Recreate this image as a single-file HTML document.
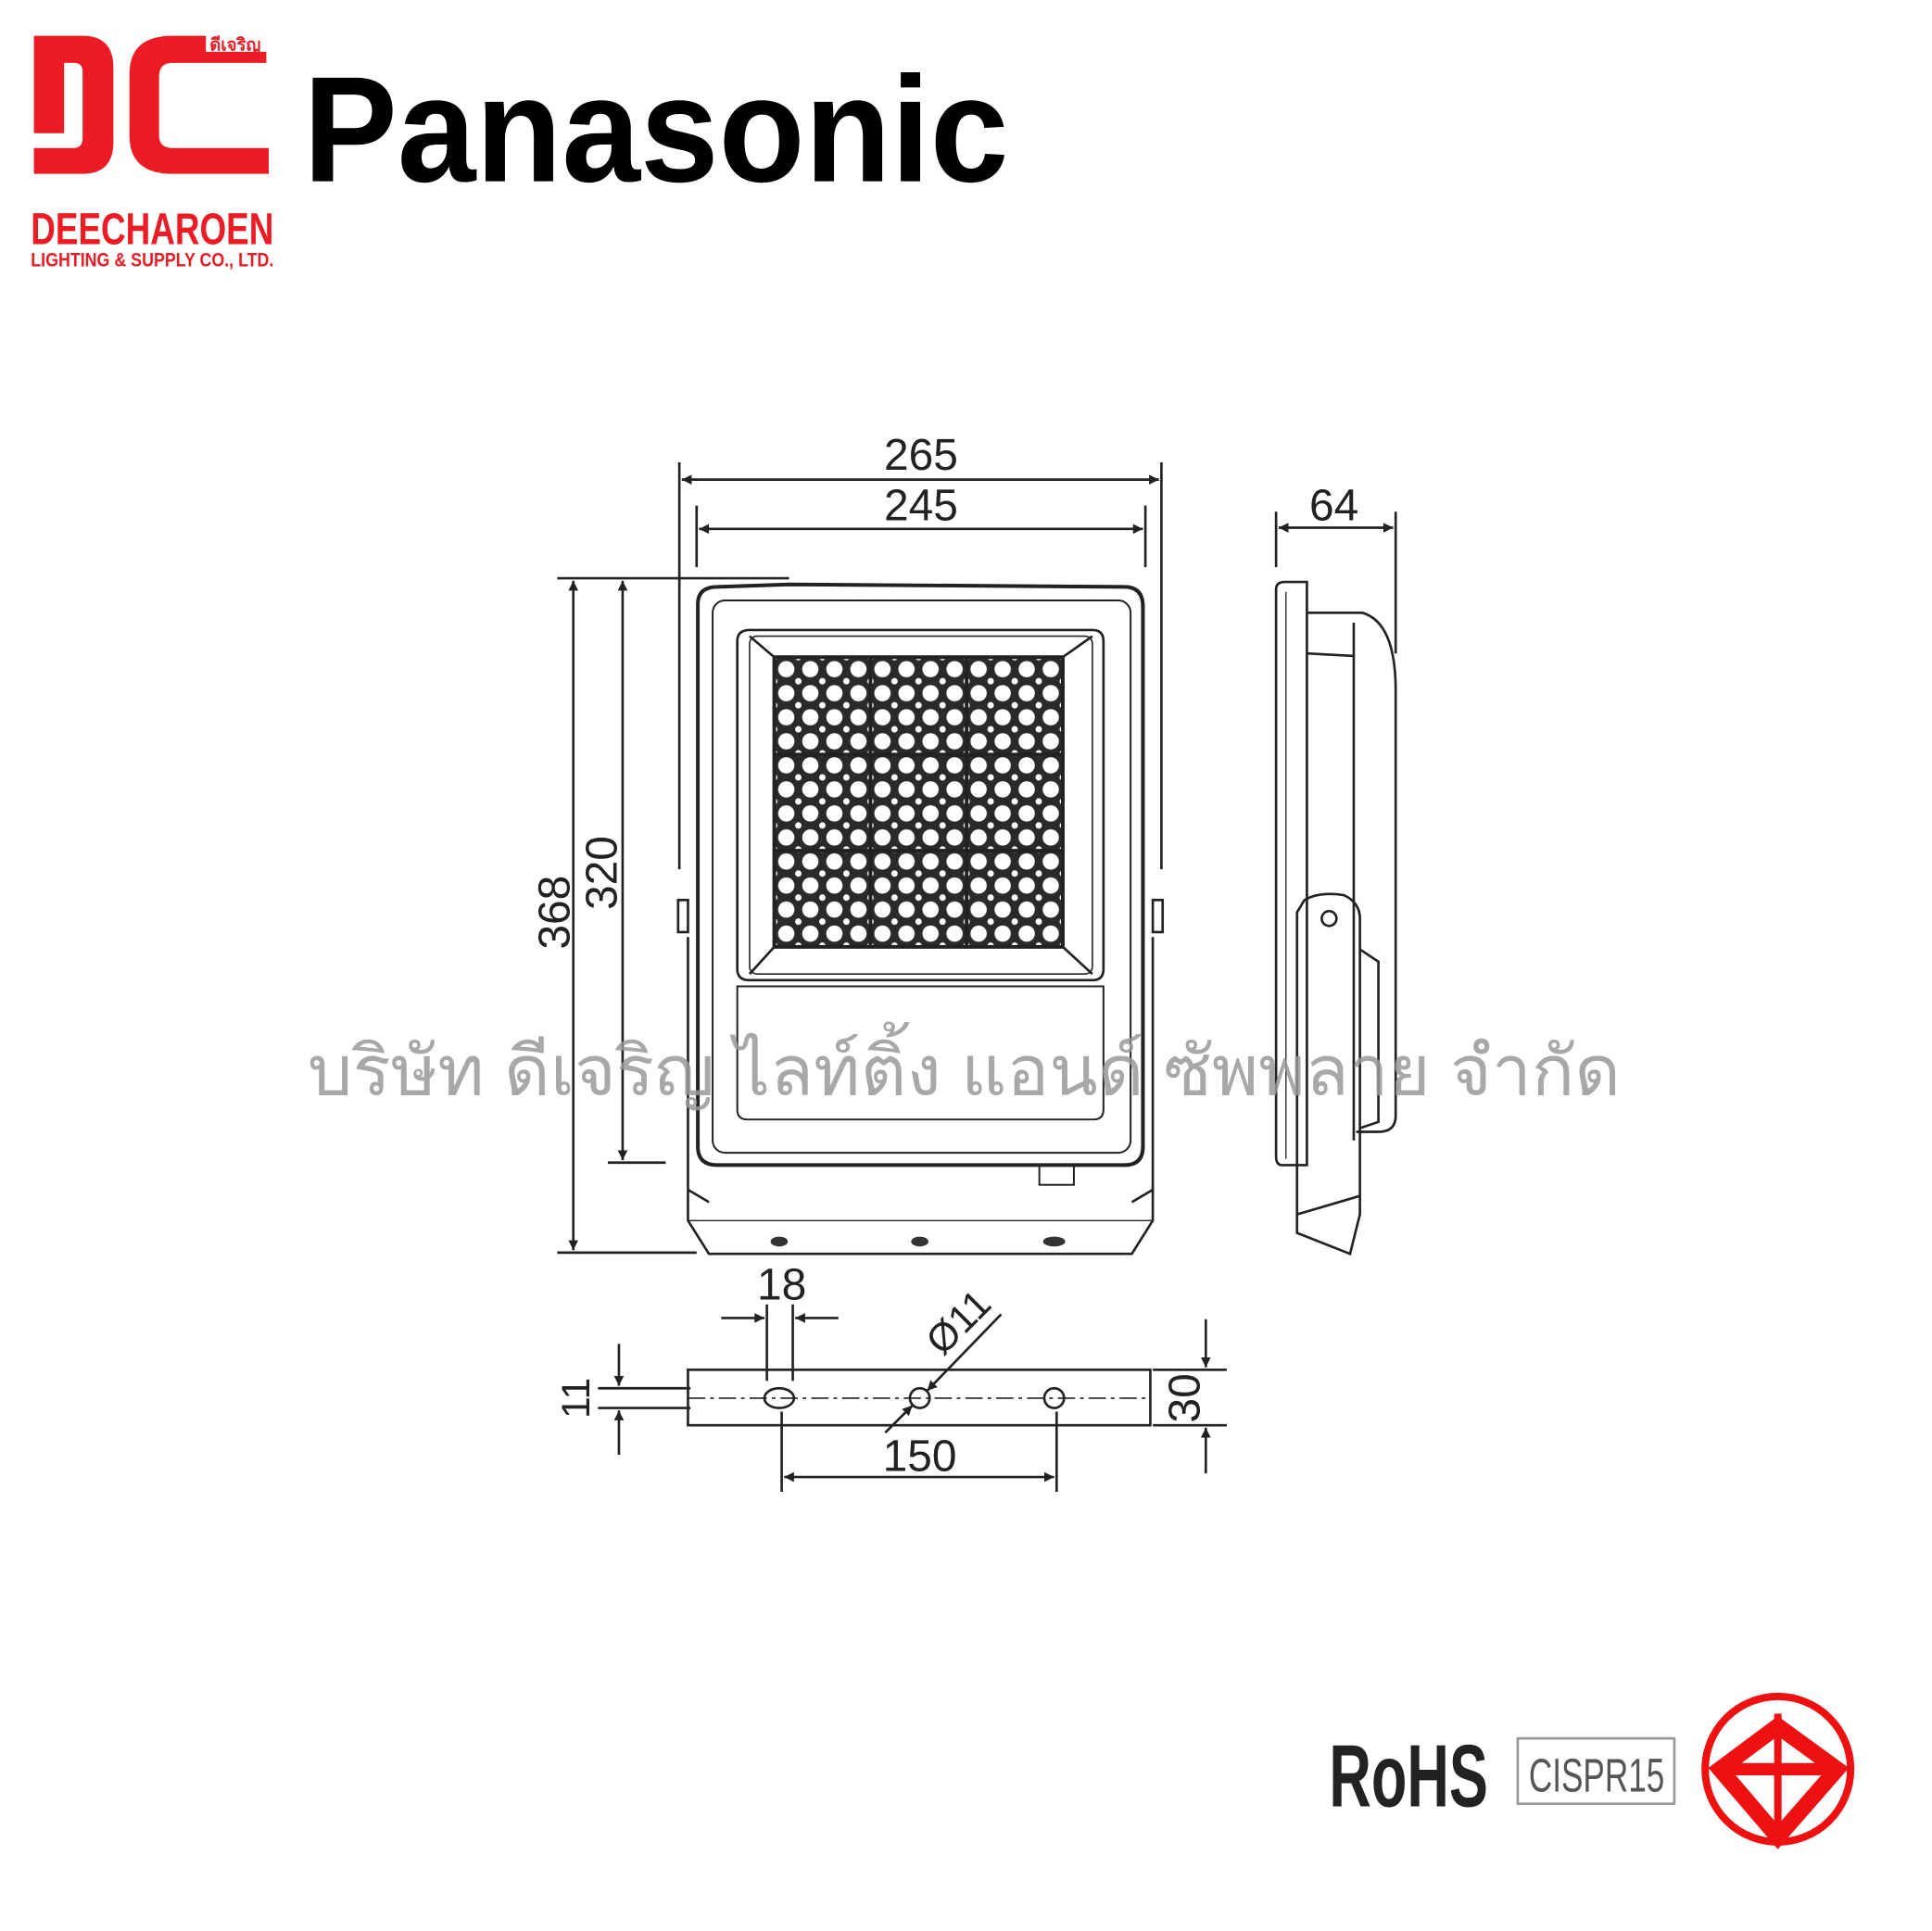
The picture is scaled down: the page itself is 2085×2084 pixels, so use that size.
<!DOCTYPE html>
<html><head><meta charset="utf-8"><style>html,body{margin:0;padding:0;background:#fff}svg{display:block}</style></head>
<body>
<svg width="2085" height="2084" viewBox="0 0 1567 1566.2" xmlns="http://www.w3.org/2000/svg">
<defs>
<marker id="a" viewBox="0 0 10 10" refX="10" refY="5" markerWidth="12" markerHeight="8" orient="auto-start-reverse" markerUnits="userSpaceOnUse"><path d="M0,0L10,5L0,10z" fill="#222"/></marker>
<pattern id="led" x="628" y="533" width="19.5" height="19.5" patternUnits="userSpaceOnUse"><rect width="19.5" height="19.5" fill="#2a2a2a"/><circle cx="9.75" cy="9.75" r="6.6" fill="#fff"/><circle cx="0" cy="0" r="2.6" fill="#fff"/><circle cx="19.5" cy="0" r="2.6" fill="#fff"/><circle cx="0" cy="19.5" r="2.6" fill="#fff"/><circle cx="19.5" cy="19.5" r="2.6" fill="#fff"/></pattern>
</defs>
<g fill="#ec1c24">
<path d="M27.5,29 H67 Q92,29 92,55 V115 Q92,141 67,141 H27.5 V120 H60 Q67,120 67,112 V58 Q67,51 60,51 H52 V108 H27.5 Z"/>
<path d="M216,42 V51 H140 Q129,51 129,62 V110 Q129,120 140,120 H218 V141 H140 Q105,141 105,110 V60 Q105,29 140,29 H167 V42 Z"/>
</g>
<text x="170" y="41" font-family="Liberation Sans, Noto Sans CJK SC, sans-serif" font-size="14" font-weight="bold" fill="#ec1c24">ดีเจริญ</text>
<text x="25" y="198" font-family="Liberation Sans Narrow, Liberation Sans, sans-serif" font-size="36" font-weight="bold" fill="#ec1c24" textLength="197" lengthAdjust="spacingAndGlyphs">DEECHAROEN</text>
<text x="25" y="216" font-family="Liberation Sans, sans-serif" font-size="16" font-weight="bold" fill="#ec1c24" textLength="197" lengthAdjust="spacingAndGlyphs">LIGHTING &amp; SUPPLY CO., LTD.</text>
<text x="246" y="147" font-family="Liberation Sans, sans-serif" font-size="122" font-weight="bold" fill="#000" textLength="572" lengthAdjust="spacingAndGlyphs">Panasonic</text>

<g fill="none" stroke="#222" stroke-width="2">
<line x1="551" y1="375" x2="551" y2="705"/><line x1="942" y1="375" x2="942" y2="705"/>
<line x1="565" y1="410" x2="565" y2="460"/><line x1="929" y1="410" x2="929" y2="460"/>
<line x1="553" y1="389" x2="940" y2="389" marker-start="url(#a)" marker-end="url(#a)"/>
<line x1="567" y1="429" x2="927" y2="429" marker-start="url(#a)" marker-end="url(#a)"/>
<line x1="452" y1="469" x2="640" y2="469"/>
<line x1="452" y1="1016" x2="565" y2="1016"/>
<line x1="493" y1="943" x2="540" y2="943"/>
<line x1="465" y1="471" x2="465" y2="1014" marker-start="url(#a)" marker-end="url(#a)"/>
<line x1="505" y1="471" x2="505" y2="941" marker-start="url(#a)" marker-end="url(#a)"/>
<path d="M566,490 Q566,476 582,476 L640,474 L912,476 Q927,476 927,492 L927,930 Q927,945 912,945 L582,945 Q566,945 566,930 Z" stroke-width="3"/>
<rect x="578" y="487" width="339" height="448" rx="10" stroke-width="1.5"/>
<path d="M598,520 Q598,511 608,511 L886,511 Q895,511 895,520 L895,786 Q895,795 886,795 L608,795 Q598,795 598,786 Z" stroke-width="2"/>
<rect x="608" y="516" width="278" height="274" rx="6" stroke-width="1.2"/>
<path d="M598,800 L895,800 L895,900 Q895,908 887,908 L606,908 Q598,908 598,900 Z" stroke-width="1.5"/>
<line x1="608" y1="516" x2="628" y2="533"/><line x1="886" y1="516" x2="862" y2="533"/>
<line x1="608" y1="790" x2="628" y2="768"/><line x1="886" y1="790" x2="862" y2="768"/>
<rect x="550" y="730" width="8" height="26"/><rect x="935" y="730" width="8" height="26"/>
<path d="M558,760 L558,990 L575,1017 L918,1017 L935,990 L935,760"/>
<line x1="558" y1="990" x2="935" y2="990" stroke-width="1"/>
<line x1="558" y1="965" x2="575" y2="975"/><line x1="935" y1="965" x2="918" y2="975"/>
<rect x="843" y="945" width="28" height="16" stroke-width="1.5"/>
</g>
<rect x="628" y="533" width="234" height="235" fill="url(#led)" stroke="#222" stroke-width="3"/>
<line x1="706" y1="533" x2="706" y2="768" stroke="#222" stroke-width="3"/>
<line x1="784" y1="533" x2="784" y2="768" stroke="#222" stroke-width="3"/>
<line x1="628" y1="612" x2="862" y2="612" stroke="#222" stroke-width="3"/>
<line x1="628" y1="690" x2="862" y2="690" stroke="#222" stroke-width="3"/>
<g fill="#333"><ellipse cx="632" cy="1007" rx="7" ry="4"/><ellipse cx="746" cy="1007" rx="7" ry="4"/><ellipse cx="855" cy="1007" rx="9" ry="4"/></g>

<g fill="none" stroke="#222" stroke-width="2">
<line x1="1035" y1="415" x2="1035" y2="460"/><line x1="1132" y1="415" x2="1132" y2="530"/>
<line x1="1037" y1="428" x2="1130" y2="428" marker-start="url(#a)" marker-end="url(#a)"/>
<path d="M1035,478 Q1035,472 1042,472 L1060,472 L1060,945 L1040,945 Q1035,945 1035,938 Z"/>
<line x1="1043" y1="480" x2="1043" y2="940" stroke-width="1"/>
<path d="M1060,497 L1105,497 Q1132,505 1132,560 L1132,905 Q1132,918 1118,918 L1100,918"/>
<path d="M1098,505 L1098,925"/>
<line x1="1060" y1="530" x2="1098" y2="532"/>
<path d="M1058,730 Q1070,723 1090,726 Q1103,732 1103,745 L1103,985 L1095,1017 L1052,1000 L1052,740 Z"/>
<circle cx="1078" cy="745" r="6"/>
<path d="M1103,770 L1118,780 L1118,910 L1103,915"/>
<line x1="1052" y1="985" x2="1103" y2="970"/>
</g>

<g fill="none" stroke="#222" stroke-width="2">
<rect x="558" y="1111" width="375" height="45"/>
<line x1="558" y1="1134" x2="933" y2="1134" stroke-dasharray="14,4,3,4" stroke-width="1.2"/>
<ellipse cx="632" cy="1134" rx="12" ry="8"/><circle cx="746" cy="1134" r="8"/><circle cx="855" cy="1134" r="8"/>
<line x1="622" y1="1058" x2="622" y2="1120"/><line x1="643" y1="1058" x2="643" y2="1120"/>
<line x1="585" y1="1069" x2="620" y2="1069" marker-end="url(#a)"/><line x1="680" y1="1069" x2="645" y2="1069" marker-end="url(#a)"/>
<line x1="634" y1="1145" x2="634" y2="1210"/><line x1="857" y1="1145" x2="857" y2="1210"/>
<line x1="636" y1="1198" x2="855" y2="1198" marker-start="url(#a)" marker-end="url(#a)"/>
<line x1="935" y1="1111" x2="995" y2="1111"/><line x1="935" y1="1156" x2="995" y2="1156"/>
<line x1="978" y1="1070" x2="978" y2="1109" marker-end="url(#a)"/><line x1="978" y1="1195" x2="978" y2="1158" marker-end="url(#a)"/>
<line x1="485" y1="1126" x2="560" y2="1126"/><line x1="485" y1="1142" x2="560" y2="1142"/>
<line x1="502" y1="1090" x2="502" y2="1124" marker-end="url(#a)"/><line x1="502" y1="1180" x2="502" y2="1144" marker-end="url(#a)"/>
<line x1="812" y1="1066" x2="752" y2="1128" marker-end="url(#a)"/><line x1="718" y1="1162" x2="740" y2="1140" marker-end="url(#a)"/>
</g>

<g font-family="Liberation Sans, sans-serif" font-size="36" fill="#222" text-anchor="middle">
<text x="747" y="381">265</text>
<text x="747" y="422">245</text>
<text x="1082" y="422">64</text>
<text x="634" y="1054">18</text>
<text x="746" y="1193">150</text>
<text transform="translate(462,740) rotate(-90)">368</text>
<text transform="translate(500,708) rotate(-90)">320</text>
<text transform="translate(973,1134) rotate(-90)">30</text>
<text transform="translate(478,1134) rotate(-90)" font-size="32">11</text>
<text transform="translate(785,1080) rotate(-45)" font-size="32">Ø11</text>
</g>

<text x="782" y="888" text-anchor="middle" font-family="Liberation Sans, Noto Sans CJK SC, sans-serif" font-size="56" fill="#999" fill-opacity="0.85" textLength="1065" lengthAdjust="spacingAndGlyphs">บริษัท ดีเจริญ ไลท์ติ้ง แอนด์ ซัพพลาย จำกัด</text>

<text x="1078" y="1465" font-family="Liberation Sans Narrow, Liberation Sans, sans-serif" font-size="72" font-weight="bold" fill="#222" textLength="129" lengthAdjust="spacingAndGlyphs">RoHS</text>
<rect x="1231" y="1410" width="127" height="53" fill="none" stroke="#999" stroke-width="2"/>
<text x="1240" y="1453" font-family="Liberation Sans Narrow, Liberation Sans, sans-serif" font-size="38" fill="#555" textLength="110" lengthAdjust="spacingAndGlyphs">CISPR15</text>
<ellipse cx="1442" cy="1435" rx="59" ry="59" fill="none" stroke="#e11" stroke-width="6"/>
<path d="M1442,1400 L1490,1435 L1442,1490 L1395,1435 Z" fill="none" stroke="#e11" stroke-width="13"/>
<line x1="1442" y1="1390" x2="1442" y2="1490" stroke="#e11" stroke-width="6"/>
<line x1="1400" y1="1435" x2="1440" y2="1435" stroke="#e11" stroke-width="10"/>
<line x1="1444" y1="1435" x2="1484" y2="1435" stroke="#e11" stroke-width="10"/>
</svg>
</body></html>
